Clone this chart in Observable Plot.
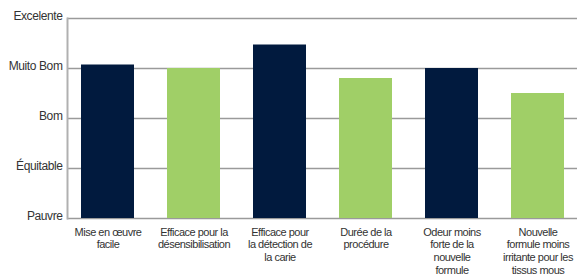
<!DOCTYPE html>
<html>
<head>
<meta charset="utf-8">
<script src="https://cdn.jsdelivr.net/npm/d3@7"></script>
<script src="https://cdn.jsdelivr.net/npm/@observablehq/plot@0.6"></script>
<style>
  html, body { margin: 0; padding: 0; background: #fff; }
  #chart svg { display: block; }
  #chart g[aria-label="y-axis tick label"] text { letter-spacing: -0.4px; }
  #chart g[aria-label="x-axis tick label"] text { letter-spacing: -0.5px; }
</style>
</head>
<body>
<div id="chart"></div>
<script>
const categories = [
  "Mise en œuvre facile",
  "Efficace pour la désensibilisation",
  "Efficace pour la détection de la carie",
  "Durée de la procédure",
  "Odeur moins forte de la nouvelle formule",
  "Nouvelle formule moins irritante pour les tissus mous"
];
const categoryLabels = [
  "Mise en œuvre\nfacile",
  "Efficace pour la\ndésensibilisation",
  "Efficace pour\nla détection de\nla carie",
  "Durée de la\nprocédure",
  "Odeur moins\nforte de la\nnouvelle\nformule",
  "Nouvelle\nformule moins\nirritante pour les\ntissus mous"
];
const scores = [3.07, 3.0, 3.47, 2.8, 3.0, 2.5];
const barColors = ["#011a3e", "#a0cf67", "#011a3e", "#a0cf67", "#011a3e", "#a0cf67"];
const ratingTicks = [0, 1, 2, 3, 4];
const ratingLabels = ["Pauvre", "Équitable", "Bom", "Muito Bom", "Excelente"];

const data = categories.map((c, i) => ({category: c, score: scores[i], color: barColors[i]}));

const chart = Plot.plot({
  width: 577,
  height: 276,
  marginTop: 18,
  marginBottom: 58,
  marginLeft: 67,
  marginRight: 0,
  style: {fontFamily: "'Liberation Sans', Arial, sans-serif", fontSize: "11px", color: "#333", background: "#fff"},
  x: {domain: categories, range: [79, 565], paddingInner: 0.387, paddingOuter: 0},
  y: {domain: [0, 4]},
  marks: [
    Plot.gridY(ratingTicks, {stroke: "#9a9a9a", strokeOpacity: 1, strokeWidth: 1.5}),
    Plot.barY(data, {x: "category", y: "score", fill: "color"}),
    Plot.frame({anchor: "left", stroke: "#b0b0b0", strokeWidth: 2}),
    Plot.axisY(ratingTicks, {
      tickSize: 0, tickPadding: 5, fontSize: 12, dy: -2,
      tickFormat: (d) => ratingLabels[d], label: null
    }),
    Plot.axisX({
      tickSize: 0, tickPadding: 8, lineHeight: 1.16,
      tickFormat: (d) => categoryLabels[categories.indexOf(d)], label: null
    })
  ]
});
document.getElementById("chart").appendChild(chart);
</script>
</body>
</html>
